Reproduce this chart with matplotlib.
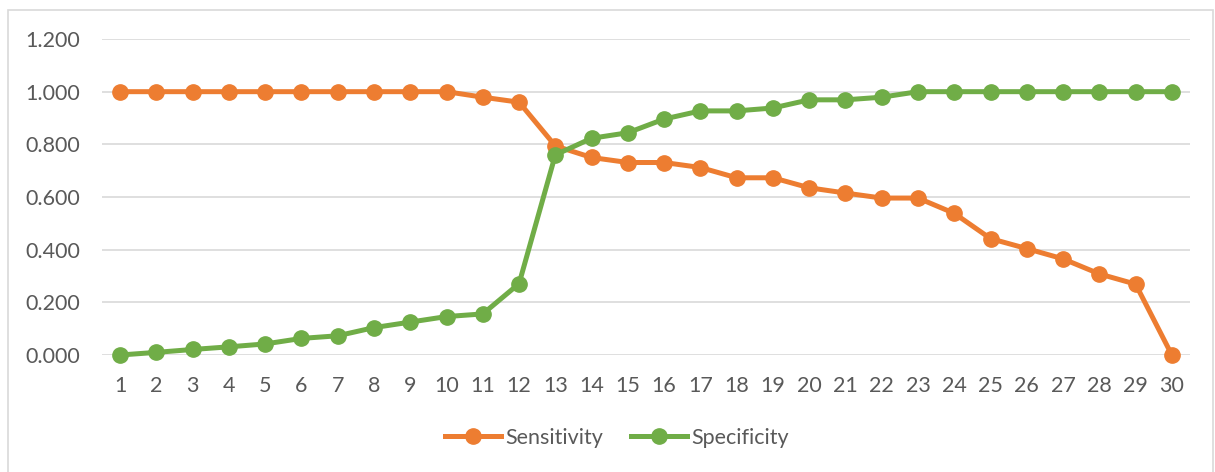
import matplotlib.pyplot as plt
from matplotlib.patches import Rectangle

# Datos
umbral = list(range(1, 31))
sensitivity = [1.000, 1.000, 1.000, 1.000, 1.000, 1.000, 1.000, 1.000, 1.000, 1.000,
               0.979, 0.960, 0.794, 0.750, 0.731, 0.731, 0.712, 0.673, 0.673, 0.635,
               0.615, 0.596, 0.596, 0.538, 0.442, 0.404, 0.365, 0.308, 0.269, 0.000]
specificity = [0.000, 0.010, 0.021, 0.031, 0.042, 0.063, 0.073, 0.104, 0.125, 0.146,
               0.156, 0.271, 0.760, 0.823, 0.844, 0.896, 0.927, 0.927, 0.938, 0.969,
               0.969, 0.979, 1.000, 1.000, 1.000, 1.000, 1.000, 1.000, 1.000, 1.000]
y_ticks = [0.0, 0.2, 0.4, 0.6, 0.8, 1.0, 1.2]

plt.rcParams['font.family'] = ['Lato', 'DejaVu Sans']
gris = '#595959'

fig = plt.figure(figsize=(12.15, 4.72), dpi=100)
ax = fig.add_axes([102 / 1215, 117 / 472, 1088 / 1215, 316 / 472])

ax.plot(umbral, sensitivity, color='#ED7D31', lw=3.6, marker='o', ms=11,
        label='Sensitivity', zorder=3, clip_on=False)
ax.plot(umbral, specificity, color='#70AD47', lw=3.6, marker='o', ms=11,
        label='Specificity', zorder=3, clip_on=False)

ax.set_xlim(0.5, 30.5)
ax.set_ylim(0, 1.2)
ax.set_xticks(umbral)
ax.set_yticks(y_ticks)
ax.set_yticklabels([f'{v:.3f}' for v in y_ticks])
ax.tick_params(length=0, labelsize=15.5, labelcolor=gris)
ax.tick_params(axis='y', pad=16)
ax.tick_params(axis='x', pad=15)
ax.grid(axis='y', color='#D9D9D9', lw=1.2)
ax.set_axisbelow(True)
for s in ax.spines.values():
    s.set_visible(False)

fig.legend(loc='center', bbox_to_anchor=(617 / 1215, 1 - 438 / 472), ncol=2,
           frameon=False, fontsize=15.5, labelcolor=gris, handlelength=2.6,
           handletextpad=0.2, columnspacing=1.3)

# Borde del área del gráfico
fig.patches.append(Rectangle((7.5 / 1215, -0.05), 1205 / 1215, 0.05 + 462 / 472,
                             transform=fig.transFigure, fill=False,
                             edgecolor='#D9D9D9', lw=1.2))

plt.savefig('out.png', dpi=100)
plt.close()
